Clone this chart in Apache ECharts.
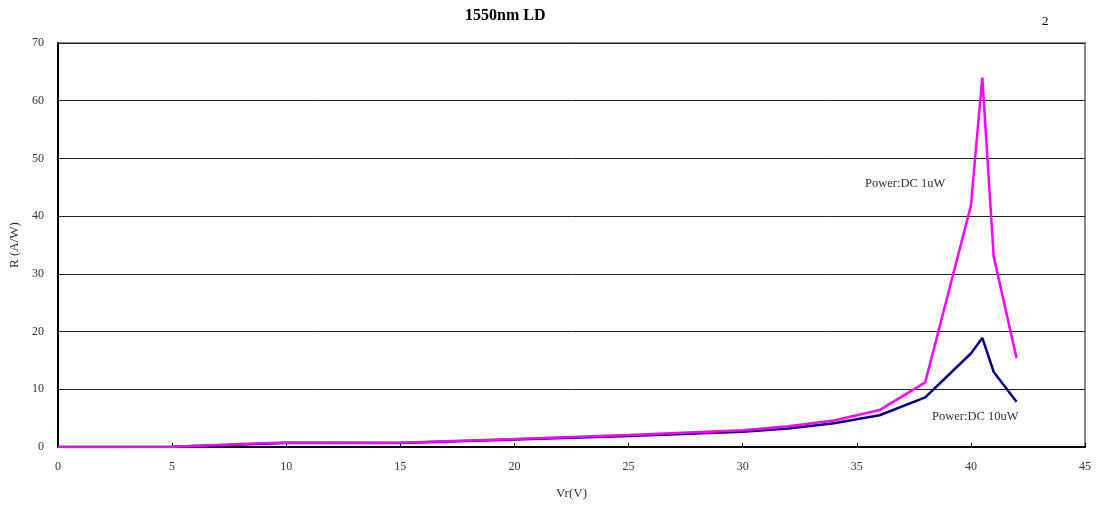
<!DOCTYPE html>
<html>
<head>
<meta charset="utf-8">
<script src="https://cdn.jsdelivr.net/npm/echarts@6/dist/echarts.min.js"></script>
<style>
html, body { margin: 0; padding: 0; background: #fff; }
#chart { width: 1101px; height: 507px; }
</style>
</head>
<body>
<div id="chart"></div>
<script>
// Vr (V) sample points
var voltages = [0, 2, 5, 7, 8, 10, 15, 20, 25, 30, 32, 34, 36, 38, 40, 40.5, 41, 42];
// responsivity R (A/W)
var dc1uW  = [0, 0, 0.05, 0.35, 0.5, 0.8, 0.75, 1.4, 2.1, 2.9, 3.6, 4.6, 6.4, 11.2, 41.8, 64.0, 33.0, 15.4];
var dc10uW = [0, 0, 0.03, 0.3, 0.45, 0.7, 0.7, 1.3, 1.9, 2.65, 3.2, 4.1, 5.5, 8.6, 16.2, 18.9, 13.0, 7.85];
var xTicks = [0, 5, 10, 15, 20, 25, 30, 35, 40, 45];
var yTicks = [0, 10, 20, 30, 40, 50, 60, 70];

var serif = '"Liberation Serif", "DejaVu Serif", serif';

function pairs(xs, ys) {
    var out = [];
    for (var i = 0; i < xs.length; i++) {
        out.push([xs[i], ys[i]]);
    }
    return out;
}

var myChart = echarts.init(document.getElementById('chart'));

var option = {
    animation: false,
    backgroundColor: '#fff',
    textStyle: { fontFamily: serif },
    grid: {
        left: 57, right: 16, top: 43, bottom: 60,
        show: true,
        borderColor: '#888',
        borderWidth: 2
    },
    graphic: [
        { type: 'text', left: 465, top: 8,
          style: { text: '1550nm LD', font: 'bold 16px ' + serif, fill: '#000' } },
        { type: 'text', left: 1042, top: 15,
          style: { text: '2', font: '13px ' + serif, fill: '#000' } },
        { type: 'text', left: 865, top: 177,
          style: { text: 'Power:DC 1uW', font: '12.5px ' + serif, fill: '#333' } },
        { type: 'text', left: 932, top: 410,
          style: { text: 'Power:DC 10uW', font: '12.5px ' + serif, fill: '#333' } }
    ],
    xAxis: {
        type: 'value',
        min: 0, max: 45, interval: 5,
        name: 'Vr(V)',
        nameLocation: 'middle',
        nameGap: 40,
        nameTextStyle: { fontFamily: serif, fontSize: 13, color: '#333' },
        axisLine: { lineStyle: { color: '#000', width: 2 } },
        axisTick: { inside: true, length: 4, lineStyle: { color: '#000' } },
        axisLabel: { fontFamily: serif, fontSize: 12, color: '#333', margin: 14 },
        splitLine: { show: false }
    },
    yAxis: {
        type: 'value',
        min: 0, max: 70, interval: 10,
        name: 'R (A/W)',
        nameLocation: 'middle',
        nameGap: 37,
        nameRotate: 90,
        nameTextStyle: { fontFamily: serif, fontSize: 13, color: '#333' },
        axisLine: { show: true, lineStyle: { color: '#000', width: 2 } },
        axisTick: { show: false },
        axisLabel: { fontFamily: serif, fontSize: 12, color: '#333', margin: 14 },
        splitLine: { show: true, lineStyle: { color: '#222', width: 1 } }
    },
    series: [
        {
            type: 'line',
            name: 'Power:DC 10uW',
            data: pairs(voltages, dc10uW),
            showSymbol: false,
            lineStyle: { color: '#000080', width: 2.5 },
            z: 3
        },
        {
            type: 'line',
            name: 'Power:DC 1uW',
            data: pairs(voltages, dc1uW),
            showSymbol: false,
            lineStyle: { color: '#ff00ff', width: 2.5 },
            z: 4
        }
    ]
};

myChart.setOption(option);
</script>
</body>
</html>
